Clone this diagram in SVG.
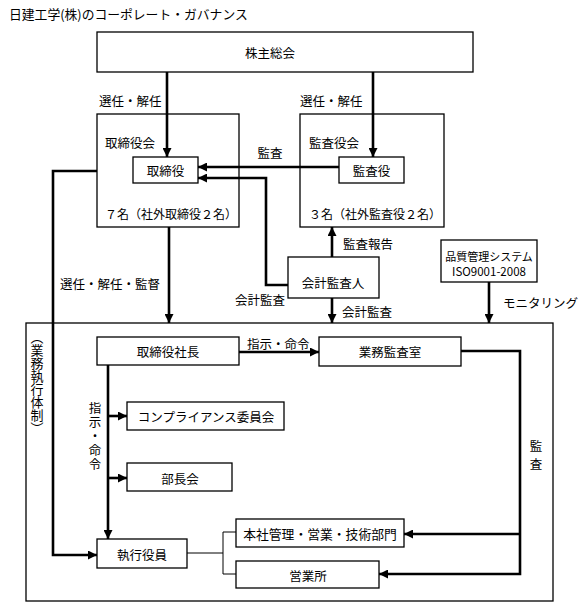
<svg xmlns="http://www.w3.org/2000/svg" width="587" height="602" viewBox="0 0 587 602">
<style>
text{font-family:"Noto Sans CJK JP","Noto Sans",sans-serif;font-size:12.5px;fill:#000}
.c{text-anchor:middle;dominant-baseline:central}
.l{dominant-baseline:central}
.v{writing-mode:vertical-rl}
.box{fill:#fff;stroke:#000;stroke-width:1.3}
.frame{fill:none;stroke:#000;stroke-width:1.3}
.thick{fill:none;stroke:#000;stroke-width:2.6}
.thin{fill:none;stroke:#000;stroke-width:1}
</style>
<defs>
<marker id="ah" viewBox="0 0 10 10" refX="10" refY="5" markerWidth="9" markerHeight="9" markerUnits="userSpaceOnUse" orient="auto">
<path d="M0,0 L10,5 L0,10 z" fill="#000"/>
</marker>
</defs>
<rect width="587" height="602" fill="#fff"/>
<text x="9" y="13" class="l" style="font-size:12.8px">日建工学(株)のコーポレート・ガバナンス</text>

<g id="outer"><rect class="frame" x="26" y="323" width="527" height="278"/>
<text x="37" y="331" class="v" style="font-size:13px">（業務執行体制）</text></g>

<g id="kabunushi"><rect class="box" x="97" y="32" width="376" height="40"/><text x="270" y="52" class="c">株主総会</text></g>

<g id="torishimariyakukai"><rect class="box" x="97" y="114" width="142" height="113"/>
<text x="105" y="142" class="l">取締役会</text>
<text x="105" y="213" class="l" style="font-size:12px">７名（社外取締役２名）</text></g>
<g id="torishimariyaku"><rect class="box" x="133" y="157" width="65" height="26"/><text x="165.5" y="170" class="c">取締役</text></g>

<g id="kansayakukai"><rect class="box" x="300" y="114" width="144" height="113"/>
<text x="309" y="142" class="l">監査役会</text>
<text x="309" y="213" class="l" style="font-size:12px">３名（社外監査役２名）</text></g>
<g id="kansayaku"><rect class="box" x="339" y="157" width="65" height="26"/><text x="371.5" y="170" class="c">監査役</text></g>

<g id="kaikeikansanin"><rect class="box" x="288" y="257" width="91" height="41"/><text x="333" y="282" class="c">会計監査人</text></g>

<g id="hinshitsu"><rect class="box" x="441" y="240" width="96" height="42"/>
<text x="489" y="256" class="c" style="font-size:11px">品質管理システム</text>
<text x="489" y="271" class="c" style="font-size:11.5px">ISO9001-2008</text></g>

<g id="shacho"><rect class="box" x="97" y="337" width="142" height="28"/><text x="168" y="351" class="c">取締役社長</text></g>
<g id="gyomukansa"><rect class="box" x="319" y="337" width="142" height="29"/><text x="390" y="351" class="c">業務監査室</text></g>
<g id="compliance"><rect class="box" x="127" y="402" width="157" height="28"/><text x="206" y="416" class="c">コンプライアンス委員会</text></g>
<g id="buchokai"><rect class="box" x="127" y="463" width="105" height="28"/><text x="180" y="478" class="c">部長会</text></g>
<g id="shikkoyakuin"><rect class="box" x="97" y="539" width="90" height="29"/><text x="142" y="554" class="c">執行役員</text></g>
<g id="honsha"><rect class="box" x="236" y="519" width="168" height="28"/><text x="320" y="533" class="c" style="font-size:12.8px">本社管理・営業・技術部門</text></g>
<g id="eigyosho"><rect class="box" x="236" y="561" width="143" height="27"/><text x="308" y="575" class="c">営業所</text></g>

<g id="connectors">
<path class="thick" d="M167,72 V157" marker-end="url(#ah)"/>
<path class="thick" d="M373,72 V157" marker-end="url(#ah)"/>
<path class="thick" d="M339,167 H198" marker-end="url(#ah)"/>
<path class="thick" d="M288,285 H266 V178 H198" marker-end="url(#ah)"/>
<path class="thick" d="M332,257 V227" marker-end="url(#ah)"/>
<path class="thick" d="M332,298 V323" marker-end="url(#ah)"/>
<path class="thick" d="M489,282 V323" marker-end="url(#ah)"/>
<path class="thick" d="M169,227 V323" marker-end="url(#ah)"/>
<path class="thick" d="M97,171 H53 V555 H97" marker-end="url(#ah)"/>
<path class="thick" d="M239,352 H319" marker-end="url(#ah)"/>
<path class="thick" d="M461,351 H520 V574 H379" marker-end="url(#ah)"/>
<path class="thick" d="M520,534 H404" marker-end="url(#ah)"/>
<path class="thick" d="M108,365 V539" marker-end="url(#ah)"/>
<path class="thick" d="M108,416 H127" marker-end="url(#ah)"/>
<path class="thick" d="M108,478 H127" marker-end="url(#ah)"/>
<path class="thin" d="M187,553 H223 M236,532 H223 V574 H236"/>
</g>

<g id="labels">
<text x="99" y="100" class="l">選任・解任</text>
<text x="300" y="100" class="l">選任・解任</text>
<text x="270" y="152" class="c">監査</text>
<text x="343" y="243" class="l">監査報告</text>
<text x="235" y="299" class="l">会計監査</text>
<text x="342" y="311" class="l">会計監査</text>
<text x="503" y="302" class="l">モニタリング</text>
<text x="60" y="283" class="l">選任・解任・監督</text>
<text x="247" y="343" class="l">指示・命令</text>
<text x="95" y="402" class="v" style="letter-spacing:1.5px">指示・命令</text>
<text x="536" y="440" class="v" style="letter-spacing:5.5px">監査</text>
</g>
</svg>
